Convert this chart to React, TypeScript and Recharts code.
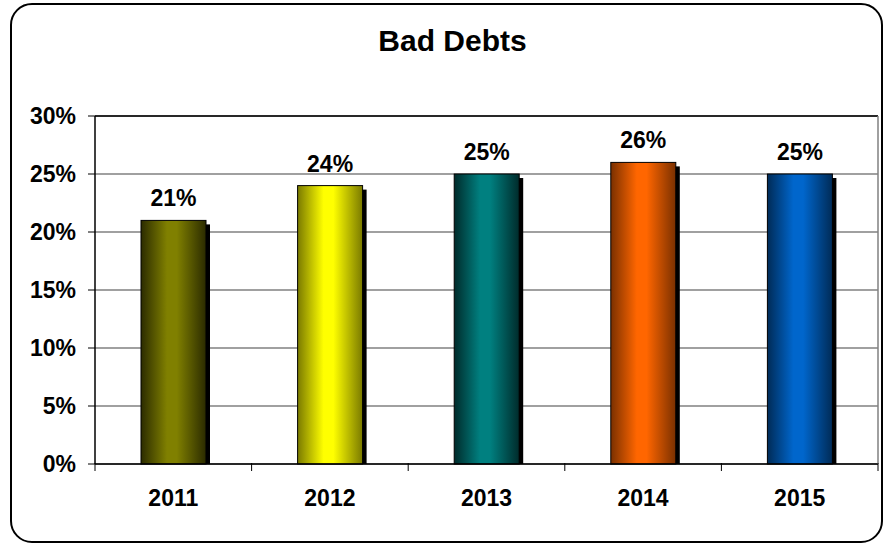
import { BarChart, Bar, XAxis, YAxis, CartesianGrid, LabelList, ReferenceLine } from 'recharts';

// chart data
const years = ['2011', '2012', '2013', '2014', '2015'];
const badDebtPct = [21, 24, 25, 26, 25];
const yTicks = [0, 5, 10, 15, 20, 25, 30];

// bar colours: [bright centre, dark edge]
const barColors = [
  ['#808000', '#2b2b00'],
  ['#FFFF00', '#7a7a00'],
  ['#008080', '#002b2b'],
  ['#FF6600', '#7a3000'],
  ['#0066CC', '#002b57'],
];

const font = '"Liberation Sans", Arial, sans-serif';
const LABEL_GAP = 26;

const chartData = years.map((year, i) => ({ year, value: badDebtPct[i] }));

const BarShape = (props: any) => {
  const { x, y, width, height, index } = props;
  if (!height || height <= 0) return null;
  return (
    <g>
      <rect x={x + 4} y={y + 4} width={width} height={height - 4} fill="#000" />
      <rect
        x={x}
        y={y}
        width={width}
        height={height}
        fill={`url(#barGrad${index})`}
        stroke="#000"
        strokeWidth={1}
      />
    </g>
  );
};

// category label plus tick marks on the category boundaries (Excel style)
const YearTick = (props: any) => {
  const { x, y, payload, index } = props;
  const half = payload?.offset ?? 0;
  const axisY = y - LABEL_GAP - 1;
  const last = index === years.length - 1;
  return (
    <g>
      <line x1={x - half} x2={x - half} y1={axisY} y2={axisY + 8} stroke="#000" />
      {last && <line x1={x + half} x2={x + half} y1={axisY} y2={axisY + 8} stroke="#000" />}
      <text
        x={x}
        y={y}
        dy="0.71em"
        textAnchor="middle"
        fill="#000"
        fontSize={23}
        fontWeight="bold"
        fontFamily={font}
      >
        {payload.value}
      </text>
    </g>
  );
};

export default function App() {
  return (
    <div style={{ position: 'absolute', left: 0, top: 0, width: 883, height: 544, background: '#fff', fontFamily: font }}>
      <div
        style={{
          position: 'absolute',
          left: 10,
          top: 3,
          width: 873,
          height: 540,
          border: '2px solid #000',
          borderRadius: 22,
          boxSizing: 'border-box',
        }}
      />
      <div
        style={{
          position: 'absolute',
          left: 0,
          top: 26,
          width: 905,
          textAlign: 'center',
          fontSize: 30,
          lineHeight: '30px',
          fontWeight: 'bold',
          color: '#000',
        }}
      >
        Bad Debts
      </div>
      <div style={{ position: 'absolute', left: 0, top: 0 }}>
        <BarChart
          width={883}
          height={544}
          data={chartData}
          margin={{ top: 116, right: 4, bottom: 79, left: 0 }}
          barSize={65}
        >
          <defs>
            {barColors.map(([bright, dark], i) => (
              <linearGradient key={i} id={`barGrad${i}`} x1="0" y1="0" x2="1" y2="0">
                <stop offset="0%" stopColor={dark} />
                <stop offset="40%" stopColor={bright} />
                <stop offset="55%" stopColor={bright} />
                <stop offset="100%" stopColor={dark} />
              </linearGradient>
            ))}
          </defs>
          <CartesianGrid vertical={false} stroke="#808080" strokeWidth={1.5} />
          <XAxis
            dataKey="year"
            height={1}
            tickLine={false}
            axisLine={false}
            tickSize={0}
            tickMargin={LABEL_GAP}
            interval={0}
            tick={<YearTick />}
          />
          <YAxis
            domain={[0, 30]}
            ticks={yTicks}
            width={95}
            interval={0}
            tickFormatter={(v) => `${v}%`}
            tickSize={7}
            tickMargin={12}
            tickLine={{ stroke: '#000' }}
            axisLine={{ stroke: '#000', strokeWidth: 1.5 }}
            tick={{ fill: '#000', fontSize: 23, fontWeight: 'bold', fontFamily: font }}
          />
          <YAxis
            yAxisId="right"
            orientation="right"
            domain={[0, 30]}
            allowDataOverflow
            width={1}
            tick={false}
            tickLine={false}
            axisLine={{ stroke: '#808080', strokeWidth: 1.5 }}
          />
          <ReferenceLine y={30} stroke="#000" strokeWidth={1.5} />
          <ReferenceLine y={0} stroke="#000" strokeWidth={1.5} />
          <Bar dataKey="value" shape={BarShape} isAnimationActive={false}>
            <LabelList
              dataKey="value"
              position="top"
              offset={14}
              formatter={(v: any) => `${v}%`}
              style={{ fill: '#000', fontSize: 23, fontWeight: 'bold', fontFamily: font }}
            />
          </Bar>
        </BarChart>
      </div>
    </div>
  );
}
